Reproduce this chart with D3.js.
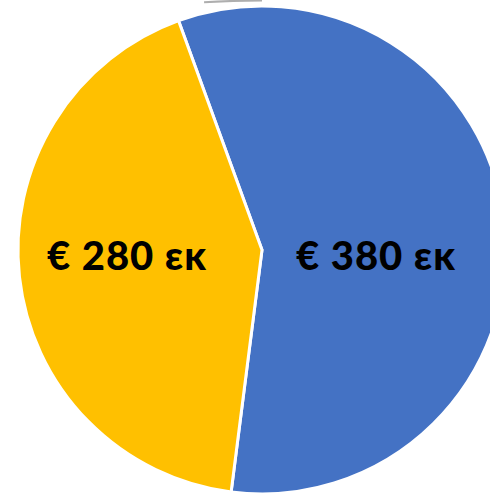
<!DOCTYPE html>
<html>
<head>
<meta charset="utf-8">
<script src="https://cdn.jsdelivr.net/npm/d3@7"></script>
<style>
html,body{margin:0;padding:0;background:#fff;overflow:hidden;}
svg{display:block;}
</style>
</head>
<body>
<svg id="chart" width="490" height="494"></svg>
<script>
const categories = ["Blue", "Yellow"];
const values = [380, 280];
const labels = ["€ 380 εκ", "€ 280 εκ"];
const colors = ["#4472C4", "#FFC000"];

const svg = d3.select("#chart");
const cx = 262, cy = 250, r = 244;

// faint grey arc at top
const g0 = svg.append("g").attr("transform", `translate(${cx},1000)`);
g0.append("path")
  .attr("d", d3.arc()({innerRadius: 998.5, outerRadius: 1000.5, startAngle: -0.058, endAngle: 0.0}))
  .attr("fill", "#9a9a9a").attr("opacity", 0.8);

const g = svg.append("g").attr("transform", `translate(${cx},${cy})`);
const startA = -20 * Math.PI / 180;
const pie = d3.pie().sort(null).value(d => d)
  .startAngle(startA).endAngle(startA + 2 * Math.PI);
const arcs = pie(values);
const arc = d3.arc().innerRadius(0).outerRadius(r);

g.selectAll("path.slice").data(arcs).enter().append("path")
  .attr("class", "slice")
  .attr("d", arc)
  .attr("fill", (d, i) => colors[i])
  .attr("stroke", "#fff").attr("stroke-width", 3).attr("stroke-linejoin", "miter");

const labelPos = [[376 - cx, 270 - cy], [127 - cx, 270 - cy]];
g.selectAll("text.lbl").data(arcs).enter().append("text")
  .attr("class", "lbl")
  .attr("x", (d, i) => labelPos[i][0])
  .attr("y", (d, i) => labelPos[i][1])
  .attr("text-anchor", "middle")
  .attr("font-family", "Lato, 'Open Sans', sans-serif")
  .attr("font-weight", 900)
  .attr("font-size", 40)
  .attr("letter-spacing", 1)
  .attr("fill", "#000")
  .text((d, i) => labels[i]);
</script>
</body>
</html>
